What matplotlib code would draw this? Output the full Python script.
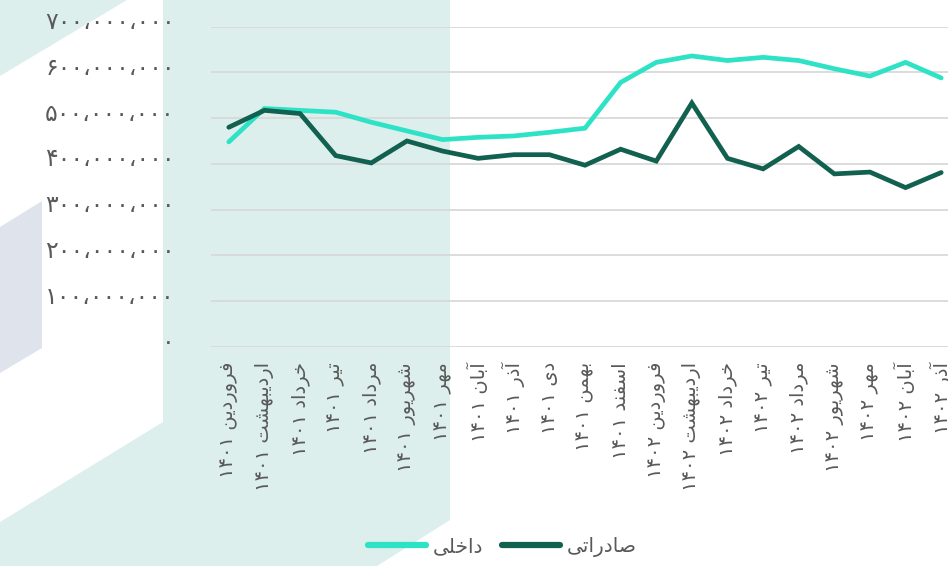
import matplotlib
matplotlib.use('Agg')
import matplotlib.pyplot as plt
from matplotlib.patches import Polygon
from matplotlib.lines import Line2D
from matplotlib.ticker import FixedLocator, FuncFormatter
import matplotlib.transforms as mtrans

# ---------------- data ----------------
categories = [
    'فروردین ۱۴۰۱', 'اردیبهشت ۱۴۰۱', 'خرداد ۱۴۰۱', 'تیر ۱۴۰۱', 'مرداد ۱۴۰۱',
    'شهریور ۱۴۰۱', 'مهر ۱۴۰۱', 'آبان ۱۴۰۱', 'آذر ۱۴۰۱', 'دی ۱۴۰۱', 'بهمن ۱۴۰۱',
    'اسفند ۱۴۰۱', 'فروردین ۱۴۰۲', 'اردیبهشت ۱۴۰۲', 'خرداد ۱۴۰۲', 'تیر ۱۴۰۲',
    'مرداد ۱۴۰۲', 'شهریور ۱۴۰۲', 'مهر ۱۴۰۲', 'آبان ۱۴۰۲', 'آذر ۱۴۰۲',
]
domestic = [448e6, 521e6, 517e6, 513e6, 491e6, 472e6, 453e6, 458e6, 461e6, 469e6, 478e6,
            578e6, 622e6, 636e6, 626e6, 633e6, 626e6, 608e6, 592e6, 622e6, 588e6]
export = [480e6, 517e6, 510e6, 418e6, 402e6, 450e6, 428e6, 412e6, 420e6, 420e6, 397e6,
          432e6, 406e6, 533e6, 412e6, 389e6, 438e6, 378e6, 382e6, 348e6, 381e6]
series_names = ['داخلی', 'صادراتی']
y_ticks = [0, 100e6, 200e6, 300e6, 400e6, 500e6, 600e6, 700e6]

# ---------------- Persian shaping helpers ----------------
FORMS = {
    'ا': ('\uFE8D', '\uFE8E', None, None),
    'آ': ('\uFE81', '\uFE82', None, None),
    'ب': ('\uFE8F', '\uFE90', '\uFE91', '\uFE92'),
    'ت': ('\uFE95', '\uFE96', '\uFE97', '\uFE98'),
    'خ': ('\uFEA5', '\uFEA6', '\uFEA7', '\uFEA8'),
    'د': ('\uFEA9', '\uFEAA', None, None),
    'ذ': ('\uFEAB', '\uFEAC', None, None),
    'ر': ('\uFEAD', '\uFEAE', None, None),
    'ز': ('\uFEAF', '\uFEB0', None, None),
    'س': ('\uFEB1', '\uFEB2', '\uFEB3', '\uFEB4'),
    'ش': ('\uFEB5', '\uFEB6', '\uFEB7', '\uFEB8'),
    'ص': ('\uFEB9', '\uFEBA', '\uFEBB', '\uFEBC'),
    'ف': ('\uFED1', '\uFED2', '\uFED3', '\uFED4'),
    'ل': ('\uFEDD', '\uFEDE', '\uFEDF', '\uFEE0'),
    'م': ('\uFEE1', '\uFEE2', '\uFEE3', '\uFEE4'),
    'ن': ('\uFEE5', '\uFEE6', '\uFEE7', '\uFEE8'),
    'ه': ('\uFEE9', '\uFEEA', '\uFEEB', '\uFEEC'),
    'و': ('\uFEED', '\uFEEE', None, None),
    'ی': ('\uFEEF', '\uFEF0', '\uFEF3', '\uFEF4'),
}
FA_DIGITS = '۰۱۲۳۴۵۶۷۸۹'


def shape_word(w):
    out = []
    n = len(w)
    for i, c in enumerate(w):
        if c not in FORMS:
            out.append(c)
            continue
        iso, fin, ini, med = FORMS[c]
        prev = w[i - 1] if i > 0 else None
        nxt = w[i + 1] if i < n - 1 else None
        pj = prev in FORMS and FORMS[prev][2] is not None
        nj = ini is not None and nxt in FORMS
        if pj and nj:
            g = med
        elif pj:
            g = fin
        elif nj:
            g = ini
        else:
            g = iso
        out.append(g)
    return ''.join(out)


def rtl(text):
    vis = []
    for t in text.split(' '):
        if all(ch in FA_DIGITS for ch in t):
            vis.append(t)
        else:
            vis.append(shape_word(t)[::-1])
    return ' '.join(vis[::-1])


def fa_num(v, pos=None):
    s = f'{int(round(v)):,}'
    return s.translate(str.maketrans('0123456789,', '۰۱۲۳۴۵۶۷۸۹،'))


# ---------------- figure ----------------
W, H = 948, 566
fig = plt.figure(figsize=(W / 100, H / 100), dpi=100)
fig.patch.set_facecolor('white')

teal_bg = '#dcefed'
grey_bg = '#dfe3ec'


def px(pts):
    return [(x / W, 1 - y / H) for x, y in pts]


# decorative background shapes
fig.add_artist(Polygon(px([(0, 0), (127, 0), (0, 76)]), closed=True,
                       transform=fig.transFigure, facecolor=teal_bg, edgecolor='none', zorder=-5))
fig.add_artist(Polygon(px([(0, 227), (42, 201), (42, 348), (0, 373)]), closed=True,
                       transform=fig.transFigure, facecolor=grey_bg, edgecolor='none', zorder=-5))
fig.add_artist(Polygon(px([(163, 0), (450, 0), (450, 520), (377, 566), (0, 566), (0, 522), (163, 422)]),
                       closed=True, transform=fig.transFigure, facecolor=teal_bg,
                       edgecolor='none', zorder=-5))

left, right = 211 / W, 959 / W
bottom, top = 1 - 346.7 / H, 1 - 26.7 / H
ax = fig.add_axes([left, bottom, right - left, top - bottom])
ax.set_facecolor('none')

light = '#2ee3c5'
dark = '#12604f'
x = list(range(len(categories)))
ax.plot(x, domestic, color=light, lw=3.4, solid_capstyle='round', solid_joinstyle='miter', zorder=3)
ax.plot(x, export, color=dark, lw=3.4, solid_capstyle='round', solid_joinstyle='miter', zorder=4)

ax.set_xlim(-0.5, len(categories) - 0.5)
ax.set_ylim(0, 700e6)
ax.yaxis.set_major_locator(FixedLocator(y_ticks))
ax.yaxis.set_major_formatter(FuncFormatter(fa_num))
ax.yaxis.grid(True, color='#d9d9d9', lw=1.3)
ax.set_axisbelow(True)
for s in ax.spines.values():
    s.set_visible(False)

ax.set_xticks(x)
ax.set_xticklabels([rtl(c) for c in categories], rotation=90, fontsize=14,
                   color='#595959', family='DejaVu Sans')
ax.tick_params(axis='x', length=0, pad=11)
ax.tick_params(axis='y', length=0, pad=26, labelsize=17, labelcolor='#595959')

offset = mtrans.ScaledTranslation(0, 5 / 72, fig.dpi_scale_trans)
for lab in ax.get_yticklabels():
    lab.set_transform(lab.get_transform() + offset)

handles = [Line2D([], [], color=light, lw=4.5, solid_capstyle='round'),
           Line2D([], [], color=dark, lw=4.5, solid_capstyle='round')]
fig.legend(handles, [rtl(n) for n in series_names], loc='center',
           bbox_to_anchor=(0.53, 0.034), ncol=2, frameon=False, fontsize=14.5,
           handlelength=2.9, columnspacing=0.9, handletextpad=0.35, labelcolor='#595959')

fig.savefig('out.png', dpi=100)
